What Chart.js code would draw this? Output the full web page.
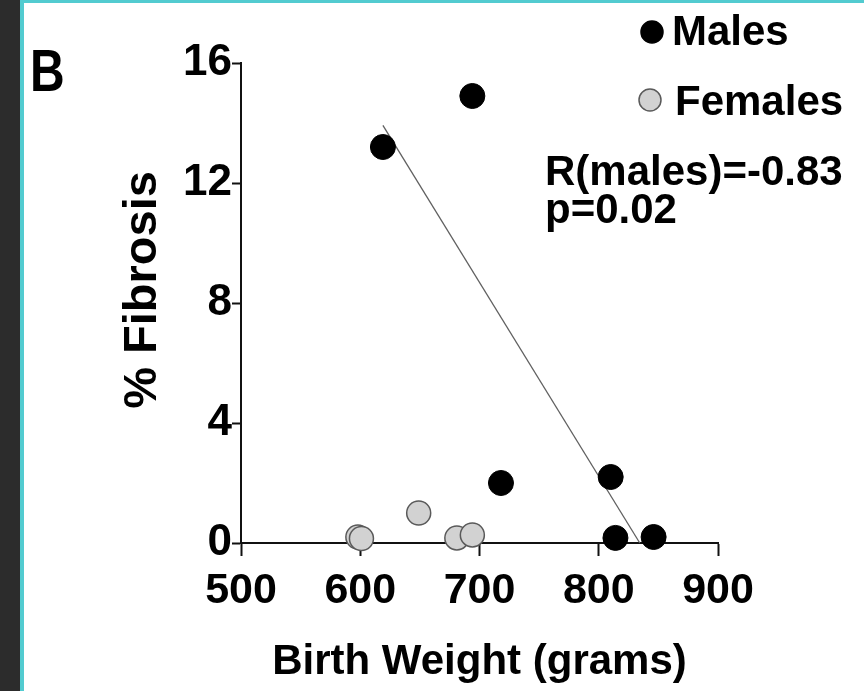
<!DOCTYPE html>
<html><head><meta charset="utf-8">
<script src="https://cdn.jsdelivr.net/npm/chart.js@4.4.0/dist/chart.umd.min.js"></script>
<style>
html,body{margin:0;padding:0;background:#2c2c2c;}
#wrap{position:relative;width:864px;height:691px;background:#2c2c2c;overflow:hidden;}
#panel{position:absolute;left:20px;top:0;width:844px;height:691px;background:#fff;border-left:4px solid #52cbd0;border-top:3px solid #52cbd0;box-sizing:border-box;}
canvas{position:absolute;left:0;top:0;}
</style></head><body>
<div id="wrap"><div id="panel"></div><canvas id="c" width="864" height="691"></canvas></div>
<script>
// ---- data ----
const xTicks = [500, 600, 700, 800, 900];
const yTicks = [0, 4, 8, 12, 16];
const maleWeight = [619, 694, 718, 810, 814, 846];
const maleFibrosis = [13.2, 14.9, 2.0, 2.2, 0.17, 0.2];
const femaleWeight = [598, 601, 649, 681, 694];
const femaleFibrosis = [0.2, 0.15, 1.0, 0.17, 0.27];
const seriesNames = ['Males', 'Females'];
const statText = ['R(males)=-0.83', 'p=0.02'];
const panelLabel = 'B';
const xTitle = 'Birth Weight (grams)';
const yTitle = '% Fibrosis';

// least-squares fit for males
function fit(xs, ys) {
  const n = xs.length;
  const mx = xs.reduce((a, b) => a + b, 0) / n;
  const my = ys.reduce((a, b) => a + b, 0) / n;
  let sxy = 0, sxx = 0;
  for (let i = 0; i < n; i++) { sxy += (xs[i] - mx) * (ys[i] - my); sxx += (xs[i] - mx) ** 2; }
  const m = sxy / sxx;
  return { m, b: my - m * mx };
}
const f = fit(maleWeight, maleFibrosis);
const x0 = Math.min(...maleWeight);
const xEnd = -f.b / f.m; // line ends where it meets the x axis
const fitLine = [{ x: x0, y: f.m * x0 + f.b }, { x: xEnd, y: 0 }];

const FONT = '"Liberation Sans", Arial, sans-serif';

const annot = {
  id: 'annot',
  afterDraw(chart) {
    const ctx = chart.ctx;
    ctx.save();
    ctx.fillStyle = '#000';
    ctx.textBaseline = 'alphabetic';
    ctx.textAlign = 'left';
    // panel letter
    ctx.save();
    ctx.translate(30, 91);
    ctx.scale(1, 1.25);
    ctx.font = 'bold 48px ' + FONT;
    ctx.fillText(panelLabel, 0, 0);
    ctx.restore();
    // legend
    const ds = chart.data.datasets;
    const items = [{ cx: 652, cy: 32, tx: 672, ty: 45 }, { cx: 650, cy: 100, tx: 675, ty: 115 }];
    ctx.font = 'bold 42px ' + FONT;
    for (let i = 0; i < 2; i++) {
      const it = items[i];
      ctx.beginPath();
      ctx.arc(it.cx, it.cy, 11, 0, Math.PI * 2);
      ctx.fillStyle = ds[i].backgroundColor;
      ctx.fill();
      ctx.lineWidth = 1.5;
      ctx.strokeStyle = ds[i].borderColor;
      ctx.stroke();
      ctx.fillStyle = '#000';
      ctx.fillText(seriesNames[i], it.tx, it.ty);
    }
    ctx.fillText(statText[0], 545, 185);
    ctx.fillText(statText[1], 545, 223);
    ctx.restore();
  }
};

new Chart(document.getElementById('c'), {
  type: 'scatter',
  data: {
    datasets: [
      {
        label: seriesNames[0],
        data: maleWeight.map((x, i) => ({ x, y: maleFibrosis[i] })),
        backgroundColor: '#000000',
        borderColor: '#000000',
        borderWidth: 1,
        pointRadius: 12.5,
        pointHoverRadius: 12.5,
        clip: false,
        order: 1
      },
      {
        label: seriesNames[1],
        data: femaleWeight.map((x, i) => ({ x, y: femaleFibrosis[i] })),
        backgroundColor: '#d2d2d2',
        borderColor: '#5a5a5a',
        borderWidth: 1.5,
        pointRadius: 12,
        pointHoverRadius: 12,
        clip: false,
        order: 2
      },
      {
        type: 'line',
        label: 'fit',
        data: fitLine,
        borderColor: '#606060',
        borderWidth: 1.3,
        pointRadius: 0,
        fill: false,
        clip: false,
        order: 3
      }
    ]
  },
  options: {
    responsive: false,
    animation: false,
    devicePixelRatio: 1,
    layout: { padding: { top: 63, right: 146, left: 0, bottom: 0 } },
    plugins: { legend: { display: false }, tooltip: { enabled: false } },
    scales: {
      x: {
        type: 'linear',
        min: 500, max: 900,
        afterBuildTicks: s => { s.ticks = xTicks.map(v => ({ value: v })); },
        afterFit: s => { s.height = 148; },
        grid: { display: true, drawOnChartArea: false, drawTicks: true, tickLength: 13, tickWidth: 2, tickColor: '#111' },
        border: { display: true, color: '#111', width: 2 },
        ticks: { color: '#000', padding: 9, maxRotation: 0, autoSkip: false, font: { family: FONT, size: 43, weight: 'bold' } },
        title: { display: true, text: xTitle, color: '#000', padding: { top: 0, bottom: 3 }, font: { family: FONT, size: 42, weight: 'bold' } }
      },
      y: {
        type: 'linear',
        min: 0, max: 16,
        afterBuildTicks: s => { s.ticks = yTicks.map(v => ({ value: v })); },
        afterFit: s => { s.width = 241; },
        grid: { display: true, drawOnChartArea: false, drawTicks: true, tickLength: 9, tickWidth: 2, tickColor: '#111' },
        border: { display: true, color: '#111', width: 2 },
        ticks: { color: '#000', padding: 0, autoSkip: false, font: { family: FONT, size: 44, weight: 'bold' } },
        title: { display: true, text: '  ' + yTitle, color: '#000', padding: { top: 115, bottom: 0 }, font: { family: FONT, size: 47, weight: 'bold' } }
      }
    }
  },
  plugins: [annot]
});
</script>
</body></html>
